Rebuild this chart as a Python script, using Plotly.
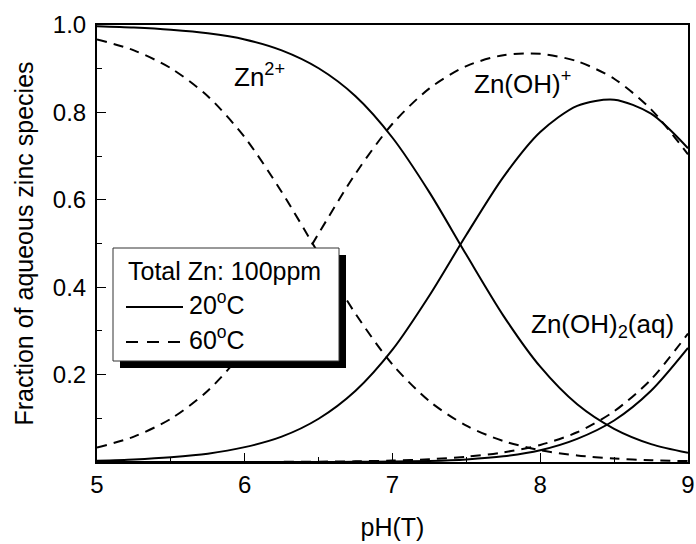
import plotly.graph_objects as go

# ---------------- data ----------------
ph = [5.0, 5.25, 5.5, 5.75, 6.0, 6.25, 6.5, 6.75, 7.0, 7.25, 7.5, 7.75,
      8.0, 8.25, 8.5, 8.75, 9.0]

# 20 C (solid)
zn2_20 = [0.997, 0.994, 0.989, 0.981, 0.967, 0.942, 0.901, 0.837, 0.742, 0.617,
          0.474, 0.335, 0.218, 0.132, 0.076, 0.041, 0.021]
znoh_20 = [0.003, 0.006, 0.011, 0.019, 0.034, 0.058, 0.099, 0.163, 0.257, 0.381,
           0.520, 0.652, 0.755, 0.815, 0.829, 0.797, 0.718]
znoh2_20 = [0.0, 0.0, 0.0, 0.0, 0.0, 0.0, 0.0001, 0.0003, 0.0009, 0.0025,
            0.006, 0.013, 0.027, 0.053, 0.095, 0.163, 0.261]

# 60 C (dashed)
zn2_60 = [0.967, 0.942, 0.901, 0.837, 0.743, 0.618, 0.477, 0.339, 0.223, 0.139,
          0.083, 0.048, 0.027, 0.015, 0.008, 0.004, 0.002]
znoh_60 = [0.033, 0.058, 0.099, 0.163, 0.257, 0.381, 0.523, 0.660, 0.774, 0.855,
           0.906, 0.931, 0.934, 0.917, 0.877, 0.807, 0.704]
znoh2_60 = [0.0, 0.0, 0.0, 0.0, 0.0001, 0.0003, 0.0007, 0.0015, 0.0032, 0.0063,
            0.012, 0.022, 0.039, 0.068, 0.116, 0.189, 0.294]

x_ticks = [5, 6, 7, 8, 9]
y_ticks = [0.2, 0.4, 0.6, 0.8, 1.0]
y_ticktext = ["0.2", "0.4", "0.6", "0.8", "1.0"]

legend_title = "Total Zn: 100ppm"
series_names = ["20<sup>o</sup>C", "60<sup>o</sup>C"]
species_labels = ["Zn<sup>2+</sup>", "Zn(OH)<sup>+</sup>", "Zn(OH)<sub>2</sub>(aq)"]
species_pos = [(6.1, 0.885), (7.88, 0.868), (8.42, 0.313)]

FONT = "Liberation Sans, Arial, sans-serif"
W, H = 696, 544
L, R, T, B = 97, 8, 25, 82
PW, PH = W - L - R, H - T - B


def px2x(px):
    return 5 + (px - L) / PW * 4


def py2y(py):
    return (H - B - py) / PH


fig = go.Figure()
styles = [("solid", [zn2_20, znoh_20, znoh2_20]), ("10px,7px", [zn2_60, znoh_60, znoh2_60])]
for i, (dash, curves) in enumerate(styles):
    for ys in curves:
        fig.add_trace(go.Scatter(
            x=ph, y=ys, mode="lines", name=series_names[i], showlegend=False,
            line=dict(color="black", width=2, dash=dash, shape="spline", smoothing=0.8),
            hoverinfo="skip"))

# species labels
for txt, (xx, yy) in zip(species_labels, species_pos):
    fig.add_annotation(x=xx, y=yy, text=txt, showarrow=False,
                       font=dict(family=FONT, size=26, color="black"))

# manual legend box with shadow
bx0, by0, bx1, by1 = 113, 248, 339, 361
sh = 7
shapes = [
    dict(type="rect", xref="x", yref="y", x0=px2x(bx0 + sh), x1=px2x(bx1 + sh),
         y0=py2y(by0 + sh), y1=py2y(by1 + sh), fillcolor="black", line=dict(width=0), layer="above"),
    dict(type="rect", xref="x", yref="y", x0=px2x(bx0), x1=px2x(bx1),
         y0=py2y(by0), y1=py2y(by1), fillcolor="white", line=dict(color="#333", width=1), layer="above"),
    dict(type="line", xref="x", yref="y", x0=px2x(126), x1=px2x(183),
         y0=py2y(307), y1=py2y(307), line=dict(color="black", width=2), layer="above"),
    dict(type="line", xref="x", yref="y", x0=px2x(126), x1=px2x(183),
         y0=py2y(342), y1=py2y(342), line=dict(color="black", width=2, dash="12px,9px"), layer="above"),
]
fig.update_layout(shapes=shapes)
fig.add_annotation(x=px2x(126), y=py2y(271), text=legend_title, showarrow=False,
                   xanchor="left", font=dict(family=FONT, size=25, color="black"))
for name, yy in zip(series_names, [303, 338]):
    fig.add_annotation(x=px2x(187), y=py2y(yy), text=name, showarrow=False,
                       xanchor="left", font=dict(family=FONT, size=25, color="black"))

axis_common = dict(showline=True, linecolor="black", linewidth=2, mirror=True,
                   ticks="inside", ticklen=9, tickwidth=1, tickcolor="black",
                   showgrid=False, zeroline=False,
                   tickfont=dict(family=FONT, size=24, color="black"))

fig.update_xaxes(range=[5, 9], tickvals=x_ticks, ticktext=[str(v) for v in x_ticks],
                 title=dict(text="pH(T)", font=dict(family=FONT, size=25, color="black"), standoff=22),
                 minor=dict(tickvals=[5.5, 6.5, 7.5, 8.5], ticklen=5, ticks="inside",
                            tickcolor="black", tickwidth=1),
                 **axis_common)
fig.update_yaxes(range=[0, 1], tickvals=y_ticks, ticktext=y_ticktext, ticklabelstandoff=4,
                 title=dict(text="Fraction of aqueous zinc species",
                            font=dict(family=FONT, size=25, color="black"), standoff=12),
                 minor=dict(tickvals=[0.1, 0.3, 0.5, 0.7, 0.9], ticklen=5, ticks="inside",
                            tickcolor="black", tickwidth=1),
                 **axis_common)

fig.update_layout(width=W, height=H, margin=dict(l=L, r=R, t=T, b=B, autoexpand=False),
                  plot_bgcolor="white", paper_bgcolor="white", showlegend=False,
                  font=dict(family=FONT, size=24, color="black"))

fig.write_html("out.html", config={"displayModeBar": False},
               post_script="document.body.style.margin='0';")
